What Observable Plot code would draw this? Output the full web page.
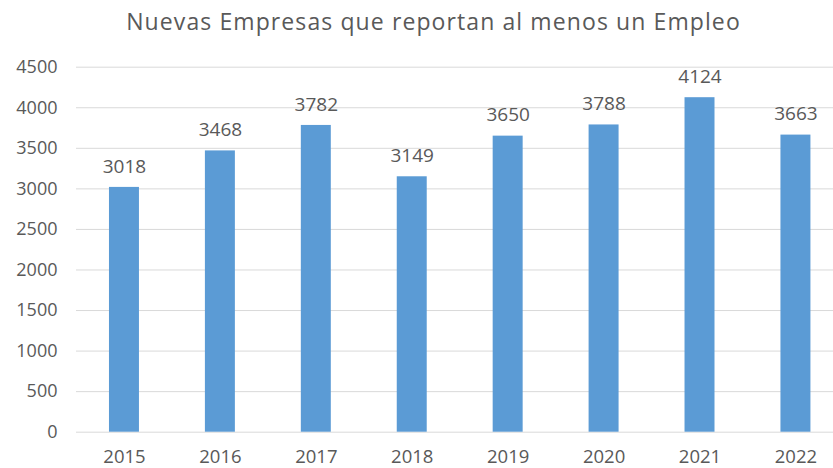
<!DOCTYPE html>
<html>
<head>
<meta charset="utf-8">
<script src="https://cdn.jsdelivr.net/npm/d3@7"></script>
<script src="https://cdn.jsdelivr.net/npm/@observablehq/plot@0.6"></script>
<style>
  html, body { margin: 0; padding: 0; background: #ffffff; }
  #wrap { width: 833px; height: 468px; position: relative; overflow: hidden; }
  #title { box-sizing: border-box; width: 833px; height: 40px; padding-top: 10px; padding-left: 34px;
    text-align: center; font-family: "Open Sans", sans-serif; font-size: 23px; line-height: 23px;
    letter-spacing: 1.1px; color: #595959; white-space: nowrap; }
</style>
</head>
<body>
<div id="wrap">
  <div id="title">Nuevas Empresas que reportan al menos un Empleo</div>
  <div id="chart"></div>
</div>
<script>
const years = ["2015", "2016", "2017", "2018", "2019", "2020", "2021", "2022"];
const values = [3018, 3468, 3782, 3149, 3650, 3788, 4124, 3663];
const yTicks = [0, 500, 1000, 1500, 2000, 2500, 3000, 3500, 4000, 4500];

const data = years.map((year, i) => ({year, value: values[i]}));

const chart = Plot.plot({
  width: 833,
  height: 428,
  marginLeft: 76,
  marginRight: 0,
  marginTop: 26.7,
  marginBottom: 36.3,
  style: {fontFamily: "Open Sans, sans-serif", color: "#595959", background: "#ffffff", overflow: "visible"},
  x: {domain: years, range: [76, 843.4], paddingInner: 0.6875, paddingOuter: 0.34375, round: false, label: null},
  y: {domain: [0, 4500], label: null},
  marks: [
    Plot.ruleY(yTicks, {stroke: "#D9D9D9", strokeWidth: 1}),
    Plot.barY(data, {x: "year", y: "value", fill: "#5B9BD5"}),
    Plot.text(data, {x: "year", y: "value", text: d => String(d.value), dy: -21, fontSize: 19, fill: "#595959"}),
    Plot.axisY(yTicks, {tickSize: 0, tickPadding: 19, fontSize: 18, label: null, fill: "#595959", tickFormat: d => String(d)}),
    Plot.axisX({tickSize: 0, tickPadding: 18, fontSize: 18.5, label: null, fill: "#595959"})
  ]
});
document.getElementById("chart").appendChild(chart);
</script>
</body>
</html>
